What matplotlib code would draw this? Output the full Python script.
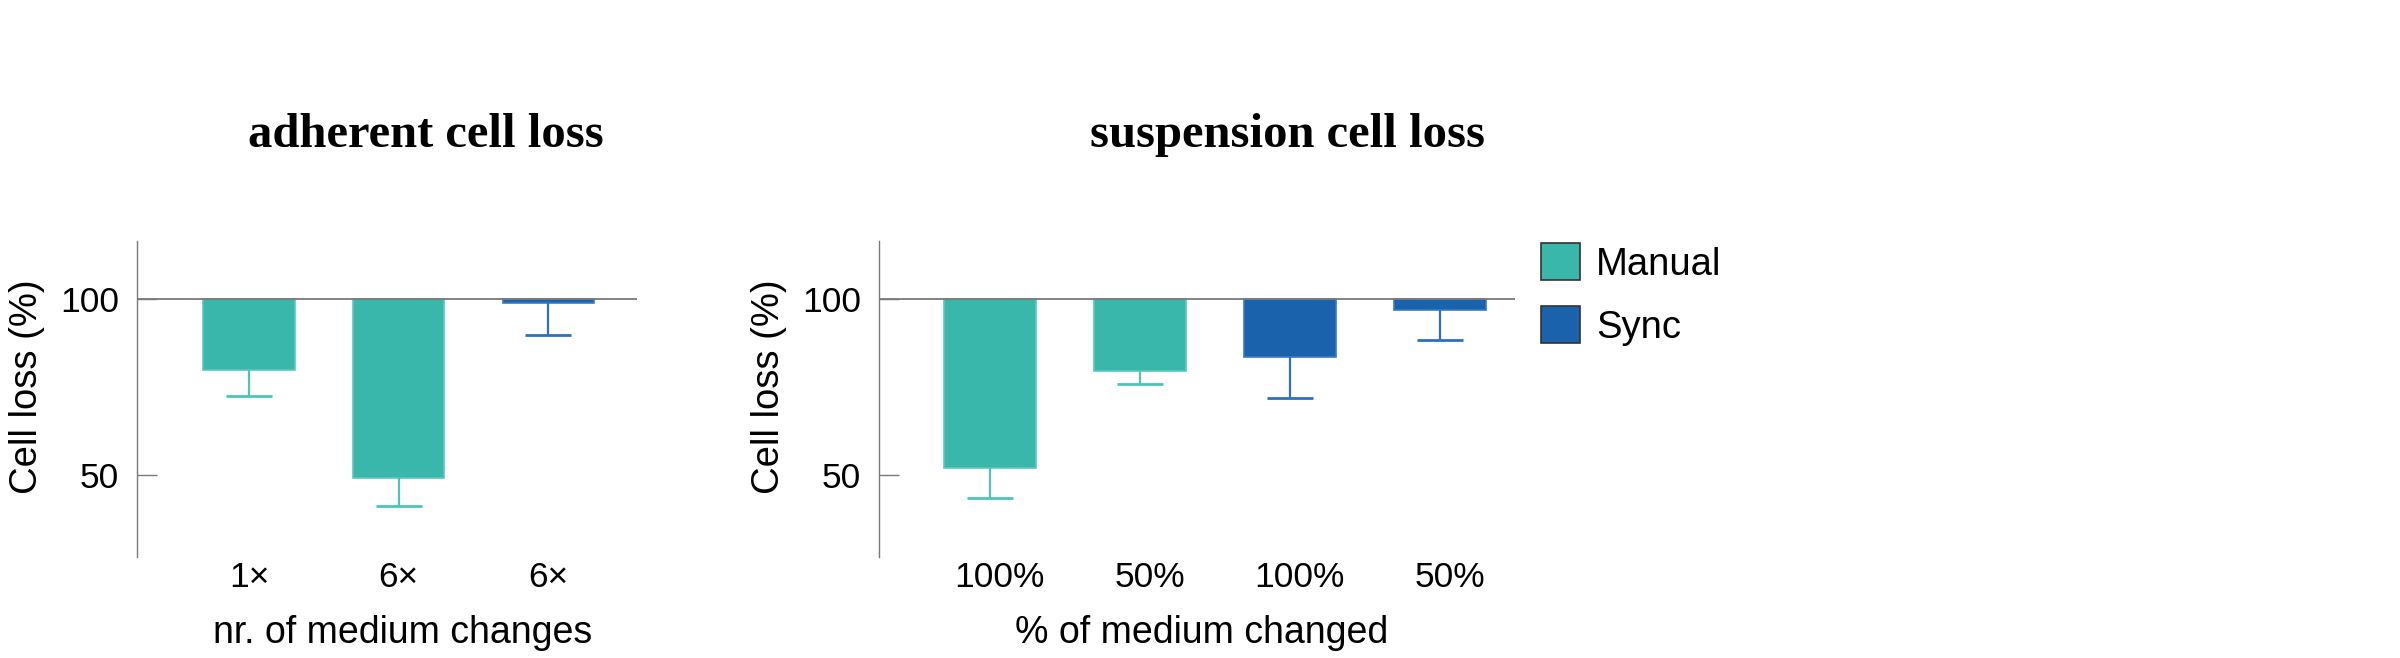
import matplotlib.pyplot as plt
import matplotlib.transforms as mtransforms
from matplotlib.patches import Patch

# data
adh_labels = ['1×', '6×', '6×']
adh_values = [80, 49, 99]
adh_err = [7.5, 8, 9]
adh_groups = ['Manual', 'Manual', 'Sync']

sus_labels = ['100%', '50%', '100%', '50%']
sus_values = [52, 79.5, 83.5, 97]
sus_err = [8.5, 3.5, 11.5, 8.5]
sus_groups = ['Manual', 'Manual', 'Sync', 'Sync']

colors = {'Manual': '#3ab7ab', 'Sync': '#1b62ad'}
edge_colors = {'Manual': '#5cc8bd', 'Sync': '#3a7cc4'}
err_colors = {'Manual': '#4cc4b8', 'Sync': '#2f70bd'}

plt.rcParams['font.family'] = ['Liberation Sans', 'DejaVu Sans']

fig = plt.figure(figsize=(24, 6.58), dpi=100)
W, H = 2400, 658
ax1 = fig.add_axes([136.7 / W, 1 - 556.7 / H, 500 / W, 315.7 / H])
ax2 = fig.add_axes([878.6 / W, 1 - 556.7 / H, 636.4 / W, 315.7 / H])


def draw_panel(ax, labels, values, errs, groups, xlim, xlabel, xlabel_x, ylabel_x,
               tick_shift=0):
    x = list(range(len(values)))
    for i in x:
        g = groups[i]
        ax.bar(i, values[i] - 100, bottom=100, width=0.61, color=colors[g],
               edgecolor=edge_colors[g], linewidth=1.2, zorder=2)
        eb = ax.errorbar(i, values[i], yerr=[[errs[i]], [0]], fmt='none',
                         ecolor=err_colors[g], elinewidth=1.6, capsize=16.8,
                         capthick=2.0, zorder=2)
        # lower error only: hide the cap at the bar end
        eb[1][1].set_visible(False)
    ax.axhline(100, color='#7a7a7a', lw=1.3, zorder=4)
    ax.set_xlim(*xlim)
    ax.set_ylim(26.66, 116.66)
    ax.set_yticks([50, 100])
    ax.set_xticks(x)
    ax.set_xticklabels(labels)
    for s in ['top', 'right', 'bottom']:
        ax.spines[s].set_visible(False)
    ax.spines['left'].set_color('#7a7a7a')
    ax.spines['left'].set_linewidth(1.0)
    ax.tick_params(axis='y', direction='in', length=14.4, width=1.0,
                   color='#7a7a7a', labelsize=25.5, pad=12.5)
    ax.tick_params(axis='x', length=0, labelsize=25.5, pad=3)
    if tick_shift:
        off = mtransforms.ScaledTranslation(tick_shift / 72, 0, fig.dpi_scale_trans)
        for lab in ax.get_xticklabels():
            lab.set_transform(lab.get_transform() + off)
    ax.set_xlabel(xlabel, fontsize=27)
    ax.xaxis.label.set_va('baseline')
    ax.xaxis.set_label_coords(xlabel_x, (556.7 - 643) / 315.7)
    ax.set_ylabel('Cell loss (%)', fontsize=27.5)
    ax.yaxis.set_label_coords(ylabel_x, 0.54)


draw_panel(ax1, adh_labels, adh_values, adh_err, adh_groups, (-0.75, 2.59),
           'nr. of medium changes', 0.532, -92 / 500)
draw_panel(ax2, sus_labels, sus_values, sus_err, sus_groups, (-0.743, 3.5),
           '% of medium changed', 0.507, -92 / 636.4, tick_shift=7)

# titles
fig.text(425.5 / W, 1 - 147.3 / H, 'adherent cell loss', ha='center',
         va='baseline', fontsize=35, fontweight='bold', family='Liberation Serif')
fig.text(1287.5 / W, 1 - 147.3 / H, 'suspension cell loss', ha='center',
         va='baseline', fontsize=35, fontweight='bold', family='Liberation Serif')

handles = [Patch(facecolor=colors[k], edgecolor='#333333', linewidth=1.2)
           for k in ['Manual', 'Sync']]
fig.legend(handles, ['Manual', 'Sync'], loc='upper left',
           bbox_to_anchor=(1540.7 / W, 1 - 243.3 / H), frameon=False,
           borderpad=0, borderaxespad=0, handlelength=1.03, handleheight=1.1,
           handletextpad=0.42, labelspacing=0.62, fontsize=27.5)

fig.savefig('out.png', dpi=100)
